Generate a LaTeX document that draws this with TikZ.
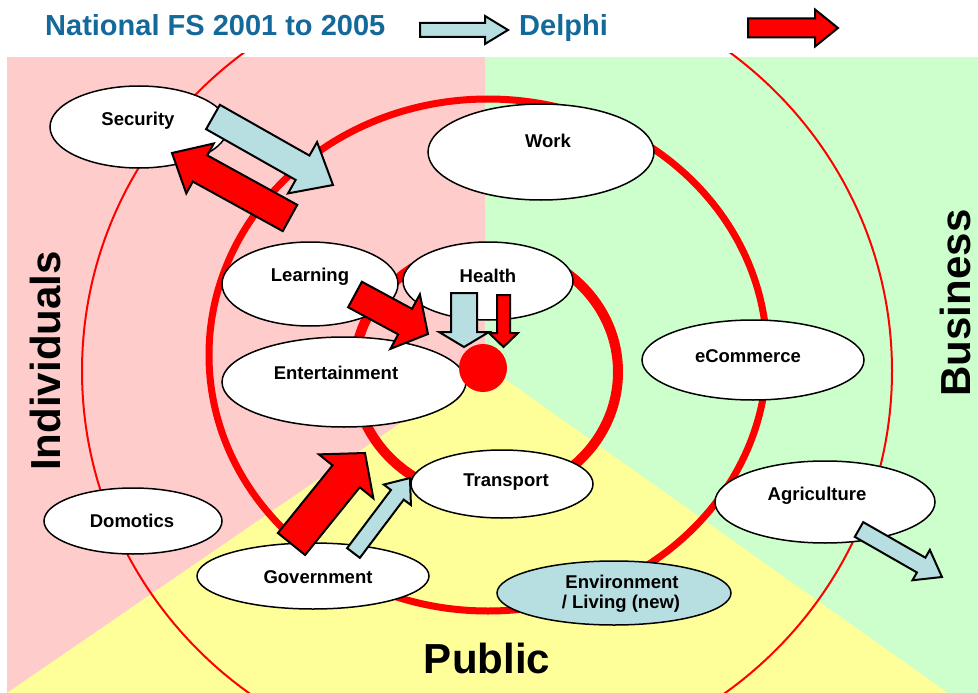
\documentclass[tikz,border=0pt]{standalone}
\usepackage{fontspec}
\setmainfont{Liberation Sans}
\usetikzlibrary{shapes.geometric}
\definecolor{pinkbg}{RGB}{255,204,204}
\definecolor{greenbg}{RGB}{204,255,204}
\definecolor{yellowbg}{RGB}{255,255,153}
\definecolor{lblue}{RGB}{183,222,225}
\definecolor{titleblue}{RGB}{20,105,155}
\tikzset{
  ell/.style={ellipse, draw=black, line width=1.5pt, fill=white, inner sep=0pt},
  lbl/.style={font=\bfseries\fontsize{18.5}{22}\selectfont, inner sep=0pt},
  big/.style={font=\bfseries\fontsize{42}{48}\selectfont, inner sep=0pt},
  ttl/.style={font=\bfseries\fontsize{29}{34}\selectfont, text=titleblue, inner sep=0pt, anchor=base west},
  blockarrowline/.style={draw=black, line width=2pt, line join=miter},
  thinring/.style={red, line width=2pt},
  midring/.style={red, line width=7pt},
  innerring/.style={red, line width=10pt},
}
% #1 tail coord, #2 tip coord, #3 shaft width, #4 head width, #5 head length, #6 fill
\newcommand\blockarrow[6]{%
  \path (#1); \pgfgetlastxy{\baXa}{\baYa}%
  \path (#2); \pgfgetlastxy{\baXb}{\baYb}%
  \pgfmathsetmacro\baAng{atan2(\baYb-\baYa,\baXb-\baXa)}%
  \pgfmathsetmacro\baLen{veclen(\baXb-\baXa,\baYb-\baYa)}%
  \draw[blockarrowline, fill=#6, shift={(#1)}, rotate=\baAng]
    (0,{#3/2}) -- ({\baLen-#5},{#3/2}) -- ({\baLen-#5},{#4/2}) -- (\baLen,0)
    -- ({\baLen-#5},{-#4/2}) -- ({\baLen-#5},{-#3/2}) -- (0,{-#3/2}) -- cycle;
}
\begin{document}
\begin{tikzpicture}[x=1pt,y=-1pt]
\useasboundingbox (0,0) rectangle (978,693);
% background sectors
\fill[pinkbg] (7,57) rectangle (485,693);
\fill[greenbg] (485,57) rectangle (978,693);
\fill[yellowbg] (485,365) -- (7,693) -- (948,693) -- cycle;
% rings
\begin{scope}
  \clip (7,54) rectangle (978,693);
  \draw[thinring] (487,371) ellipse [x radius=405pt, y radius=398pt];
\end{scope}
\draw[midring] (488,355) ellipse [x radius=279pt, y radius=256pt];
\draw[innerring] (486,372) ellipse [x radius=132pt, y radius=125pt];
% ellipses
\node[ell, minimum width=178pt, minimum height=82pt] (sec) at (139,127) {};
\node[ell, minimum width=226pt, minimum height=96pt] (work) at (541,152) {};
\node[ell, minimum width=176pt, minimum height=84pt] (learn) at (310,284) {};
\node[ell, minimum width=170pt, minimum height=78pt] (health) at (488,281) {};
\node[ell, minimum width=244pt, minimum height=90pt] (ent) at (344,382) {};
\node[ell, minimum width=222pt, minimum height=80pt] (ecom) at (753,360) {};
\node[ell, minimum width=182pt, minimum height=68pt] (trans) at (502,484) {};
\node[ell, minimum width=220pt, minimum height=82pt] (agri) at (825,502) {};
\node[ell, fill=lblue, minimum width=234pt, minimum height=64pt] (env) at (614,593) {};
\node[ell, minimum width=232pt, minimum height=66pt] (gov) at (313,576) {};
\node[ell, minimum width=178pt, minimum height=66pt] (dom) at (133,521) {};
\node[circle, fill=red, minimum size=48pt, inner sep=0pt] (dot) at (483,368) {};
% labels
\node[lbl] (secT) at (138,121) {Security};
\node[lbl] (workT) at (548,141) {Work};
\node[lbl] (learnT) at (310,277) {Learning};
\node[lbl] (healthT) at (488,276) {Health};
\node[lbl] (entT) at (336,373) {Entertainment};
\node[lbl] (ecomT) at (748,356) {eCommerce};
\node[lbl] (transT) at (506,482) {Transport};
\node[lbl] (agriT) at (817,496) {Agriculture};
\node[lbl] (envT1) at (622,582) {Environment};
\node[lbl] (envT2) at (621,604) {/ Living (new)};
\node[lbl] (govT) at (318,577) {Government};
\node[lbl] (domT) at (132,521) {Domotics};
\node[big, rotate=90] (indT) at (45,361) {Individuals};
\node[big, rotate=90] (busT) at (955,303) {Business};
\node[big] (pubT) at (487,658) {Public};
\node[ttl] (title) at (45,36) {National FS 2001 to 2005};
\node[ttl] (delphi) at (519,36) {Delphi};
% arrow end points
\coordinate (hbA) at (420,30);  \coordinate (hbB) at (508,30);
\coordinate (hrA) at (748,28);  \coordinate (hrB) at (838,28);
\coordinate (s1A) at (213,117); \coordinate (s1B) at (333,185);
\coordinate (s2A) at (290,218); \coordinate (s2B) at (172,153);
\coordinate (l1A) at (355,294.5); \coordinate (l1B) at (428,334);
\coordinate (h1A) at (464,293); \coordinate (h1B) at (464,347);
\coordinate (h2A) at (503.5,295); \coordinate (h2B) at (503.5,347);
\coordinate (g1A) at (291.5,544); \coordinate (g1B) at (365,453);
\coordinate (g2A) at (353.5,553); \coordinate (g2B) at (410,478);
\coordinate (a1A) at (859,529.5); \coordinate (a1B) at (942,577);
% arrows
\blockarrow{hbA}{hbB}{14}{28}{23}{lblue}
\blockarrow{hrA}{hrB}{19}{37}{23}{red}
\blockarrow{s1A}{s1B}{28}{59}{35}{lblue}
\blockarrow{s2A}{s2B}{30}{57}{32}{red}
\blockarrow{l1A}{l1B}{29}{62}{26}{red}
\blockarrow{h1A}{h1B}{26}{50}{15}{lblue}
\blockarrow{h2A}{h2B}{13}{29}{14}{red}
\blockarrow{g1A}{g1B}{35}{70}{30}{red}
\blockarrow{g2A}{g2B}{16}{34}{21}{lblue}
\blockarrow{a1A}{a1B}{17}{35}{24}{lblue}
\end{tikzpicture}
\end{document}
